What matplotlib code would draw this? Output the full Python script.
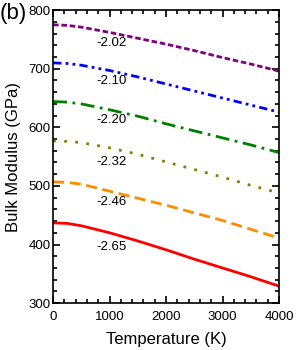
import matplotlib
matplotlib.use("Agg")
import matplotlib.pyplot as plt
from matplotlib.ticker import MultipleLocator

plt.rcParams['font.family'] = ['Liberation Sans', 'DejaVu Sans']

temps = [0, 250, 500, 1000, 1500, 2000, 2500, 3000, 3500, 4000]

k_202 = [775, 774, 771, 762, 752, 742, 731, 719, 708, 696]
k_210 = [710, 709, 706, 697, 686, 674, 662, 650, 638, 626]
k_220 = [644, 643, 640, 630, 619, 606, 594, 582, 570, 557]
k_232 = [577, 576, 574, 565, 554, 541, 528, 515, 501, 488]
k_246 = [507, 506, 503, 491, 479, 467, 454, 441, 426, 411]
k_265 = [437, 436, 432, 420, 406, 391, 375, 360, 345, 329]

labels = ["-2.02", "-2.10", "-2.20", "-2.32", "-2.46", "-2.65"]
label_y = [744, 679, 613, 541, 473, 395]

fig = plt.figure(figsize=(3.0, 3.5), dpi=100)
ax = fig.add_axes([0.177, 0.134, 0.753, 0.837])

ax.plot(temps, k_202, color='purple', lw=2, ls=(0, (2, 1)))
ax.plot(temps, k_210, color='blue', lw=2, ls=(0, (3, 1.5, 1, 1.5, 1, 1.5)))
ax.plot(temps, k_220, color='green', lw=2, ls=(0, (5, 2, 1, 2)))
ax.plot(temps, k_232, color='olive', lw=2, ls=(0, (1, 3)))
ax.plot(temps, k_246, color='darkorange', lw=2, ls=(0, (4, 2)))
ax.plot(temps, k_265, color='red', lw=2, ls='-')

for lab, yy in zip(labels, label_y):
    ax.text(770, yy, lab, fontsize=9.5, va='center', ha='left')

ax.set_xlim(0, 4000)
ax.set_ylim(300, 800)
ax.xaxis.set_major_locator(MultipleLocator(1000))
ax.xaxis.set_minor_locator(MultipleLocator(200))
ax.yaxis.set_major_locator(MultipleLocator(100))
ax.yaxis.set_minor_locator(MultipleLocator(20))
ax.tick_params(which='both', direction='in', top=True, right=True, width=1.2)
ax.tick_params(which='major', length=5, labelsize=9.5)
ax.tick_params(axis='x', which='major', pad=6)
ax.tick_params(axis='y', which='major', pad=2)
ax.tick_params(which='minor', length=3)
for s in ax.spines.values():
    s.set_linewidth(1.2)

ax.set_xlabel("Temperature (K)", fontsize=12, labelpad=6)
ax.set_ylabel("Bulk Modulus (GPa)", fontsize=12, labelpad=5)
fig.text(0.0, 0.99, "(b)", fontsize=16, va='top', ha='left')

fig.savefig("out.png", dpi=100)
